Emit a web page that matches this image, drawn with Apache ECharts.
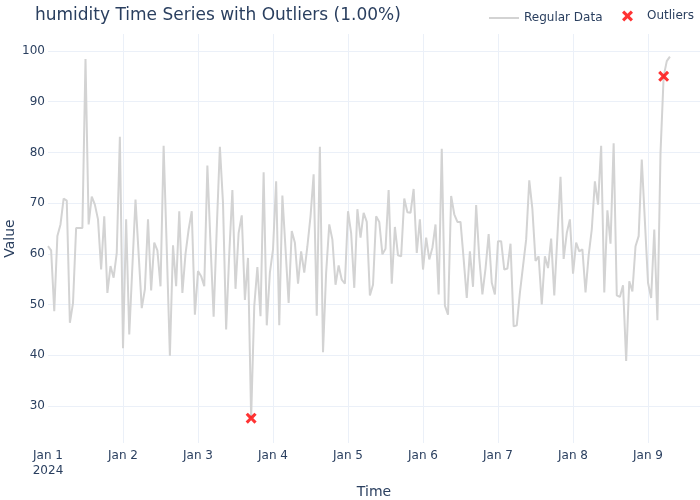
<!DOCTYPE html>
<html>
<head>
<meta charset="utf-8">
<title>humidity Time Series with Outliers</title>
<script src="https://cdn.jsdelivr.net/npm/echarts@6/dist/echarts.min.js"></script>
<style>
    html, body { margin: 0; padding: 0; background: #fff; }
    #chart { width: 700px; height: 500px; }
</style>
</head>
<body>
<div id="chart"></div>
<script>
    var startTime = Date.UTC(2024, 0, 1); // Jan 1 2024 00:00, hourly samples
    var hourMs = 3600 * 1000;
    var dayMs = 24 * hourMs;

    // humidity readings, one per hour
    var humidity = [
        61.5, 60.7, 48.7, 63.5, 65.8, 70.9, 70.5, 46.4, 50.3, 65.1,
        65.1, 65.1, 98.4, 65.8, 71.3, 69.7, 66.8, 56.9, 67.4, 52.3,
        57.6, 55.3, 60.2, 83.1, 41.4, 66.8, 44.1, 57.5, 70.7, 60.0,
        49.3, 53.0, 66.8, 52.8, 62.2, 60.7, 53.6, 81.3, 61.0, 39.9,
        61.7, 53.6, 68.4, 52.3, 60.0, 64.8, 68.4, 48.0, 56.6, 55.6,
        53.6, 77.4, 62.0, 47.6, 65.0, 81.1, 70.0, 45.1, 60.0, 72.6,
        53.1, 64.1, 67.6, 50.9, 59.2, 27.6, 49.7, 57.4, 47.7, 76.1,
        45.9, 56.3, 60.9, 74.3, 45.9, 71.5, 61.0, 50.3, 64.5, 62.2,
        54.1, 60.5, 56.3, 61.5, 67.4, 75.7, 47.8, 81.1, 40.6, 56.3,
        65.8, 62.8, 53.9, 57.7, 54.9, 54.1, 68.4, 64.1, 53.3, 68.8,
        63.2, 68.1, 66.3, 51.8, 53.9, 67.4, 66.3, 59.9, 61.0, 72.6,
        54.1, 65.3, 59.7, 59.5, 70.9, 68.2, 68.1, 72.8, 60.2, 66.8,
        56.9, 63.2, 58.9, 61.2, 65.8, 52.0, 80.7, 49.8, 48.0, 71.4,
        67.8, 66.3, 66.3, 59.0, 51.3, 60.5, 53.5, 69.6, 59.2, 52.0,
        57.1, 63.9, 54.3, 52.0, 62.5, 62.5, 56.9, 57.1, 62.0, 45.7,
        45.9, 52.3, 57.6, 62.8, 74.5, 68.8, 58.6, 59.5, 50.0, 59.5,
        57.2, 63.0, 51.8, 63.5, 75.2, 59.0, 64.1, 66.8, 56.1, 62.2,
        60.5, 60.9, 52.4, 59.7, 64.8, 74.3, 69.7, 81.3, 52.4, 68.6,
        62.0, 81.8, 51.8, 51.5, 53.8, 38.9, 54.6, 52.6, 61.5, 63.5,
        78.6, 66.4, 54.3, 51.3, 64.8, 46.9, 80.0, 95.0, 98.0, 98.9
    ];

    // hours flagged as outliers
    var outlierIdx = [65, 197];

    var dayLabels = ['Jan 1\n2024', 'Jan 2', 'Jan 3', 'Jan 4', 'Jan 5', 'Jan 6', 'Jan 7', 'Jan 8', 'Jan 9'];

    var textColor = '#2a3f5f';
    var gridColor = '#ebf0f8';
    var fontName = '"DejaVu Sans", Verdana, sans-serif';
    var xMark = 'path://M2,0 L5,3 L8,0 L10,2 L7,5 L10,8 L8,10 L5,7 L2,10 L0,8 L3,5 L0,2 Z';

    var lineData = humidity.map(function (v, i) {
        return [startTime + i * hourMs, v];
    });
    var outlierData = outlierIdx.map(function (i) {
        return [startTime + i * hourMs, humidity[i]];
    });

    var option = {
        backgroundColor: '#fff',
        animation: false,
        textStyle: { fontFamily: fontName },
        title: {
            text: 'humidity Time Series with Outliers (1.00%)',
            left: 30,
            top: 2,
            textStyle: { fontSize: 17, fontWeight: 'normal', color: textColor, fontFamily: fontName }
        },
        legend: [{
            left: 484,
            top: 7,
            icon: 'rect',
            itemWidth: 30,
            itemHeight: 2,
            data: ['Regular Data'],
            textStyle: { fontSize: 12, color: textColor, fontFamily: fontName }
        }, {
            left: 617,
            top: 5,
            itemWidth: 11,
            itemHeight: 11,
            data: [{ name: 'Outliers', icon: xMark }],
            textStyle: { fontSize: 12, color: textColor, fontFamily: fontName, padding: [0, 0, 0, 9] }
        }],
        grid: { left: 48, right: 0, top: 34, bottom: 57, containLabel: false, outerBoundsMode: 'none' },
        xAxis: {
            type: 'value',
            min: startTime,
            max: startTime + 8.693 * dayMs,
            interval: dayMs,
            name: 'Time',
            nameLocation: 'middle',
            nameGap: 42,
            nameMoveOverlap: false,
            nameTextStyle: { fontSize: 14, color: textColor, fontFamily: fontName },
            axisLine: { show: false },
            axisTick: { show: false },
            splitLine: { show: true, showMinLine: false, showMaxLine: false, lineStyle: { color: gridColor, width: 1 } },
            axisLabel: {
                color: textColor,
                fontSize: 12,
                fontFamily: fontName,
                margin: 5,
                lineHeight: 15,
                showMinLabel: true,
                showMaxLabel: false,
                formatter: function (value) {
                    var k = Math.round((value - startTime) / dayMs);
                    return dayLabels[k] || '';
                }
            }
        },
        yAxis: {
            type: 'value',
            min: 22.7,
            max: 103.35,
            splitNumber: 8,
            name: 'Value',
            nameLocation: 'middle',
            nameGap: 31,
            nameMoveOverlap: false,
            nameTextStyle: { fontSize: 14, color: textColor, fontFamily: fontName },
            axisLine: { show: false },
            axisTick: { show: false },
            splitLine: { show: true, showMinLine: false, showMaxLine: false, lineStyle: { color: gridColor, width: 1 } },
            axisLabel: {
                color: textColor,
                fontSize: 12,
                fontFamily: fontName,
                margin: 3,
                showMinLabel: false,
                showMaxLabel: false
            }
        },
        series: [{
            name: 'Regular Data',
            type: 'line',
            data: lineData,
            symbol: 'none',
            z: 2,
            lineStyle: { color: '#d3d3d3', width: 2 },
            itemStyle: { color: '#d3d3d3' }
        }, {
            name: 'Outliers',
            type: 'scatter',
            data: outlierData,
            symbol: xMark,
            symbolSize: 11,
            z: 3,
            itemStyle: { color: '#ff0000' }
        }]
    };

    var myChart = echarts.init(document.getElementById('chart'));
    myChart.setOption(option);
</script>
</body>
</html>
